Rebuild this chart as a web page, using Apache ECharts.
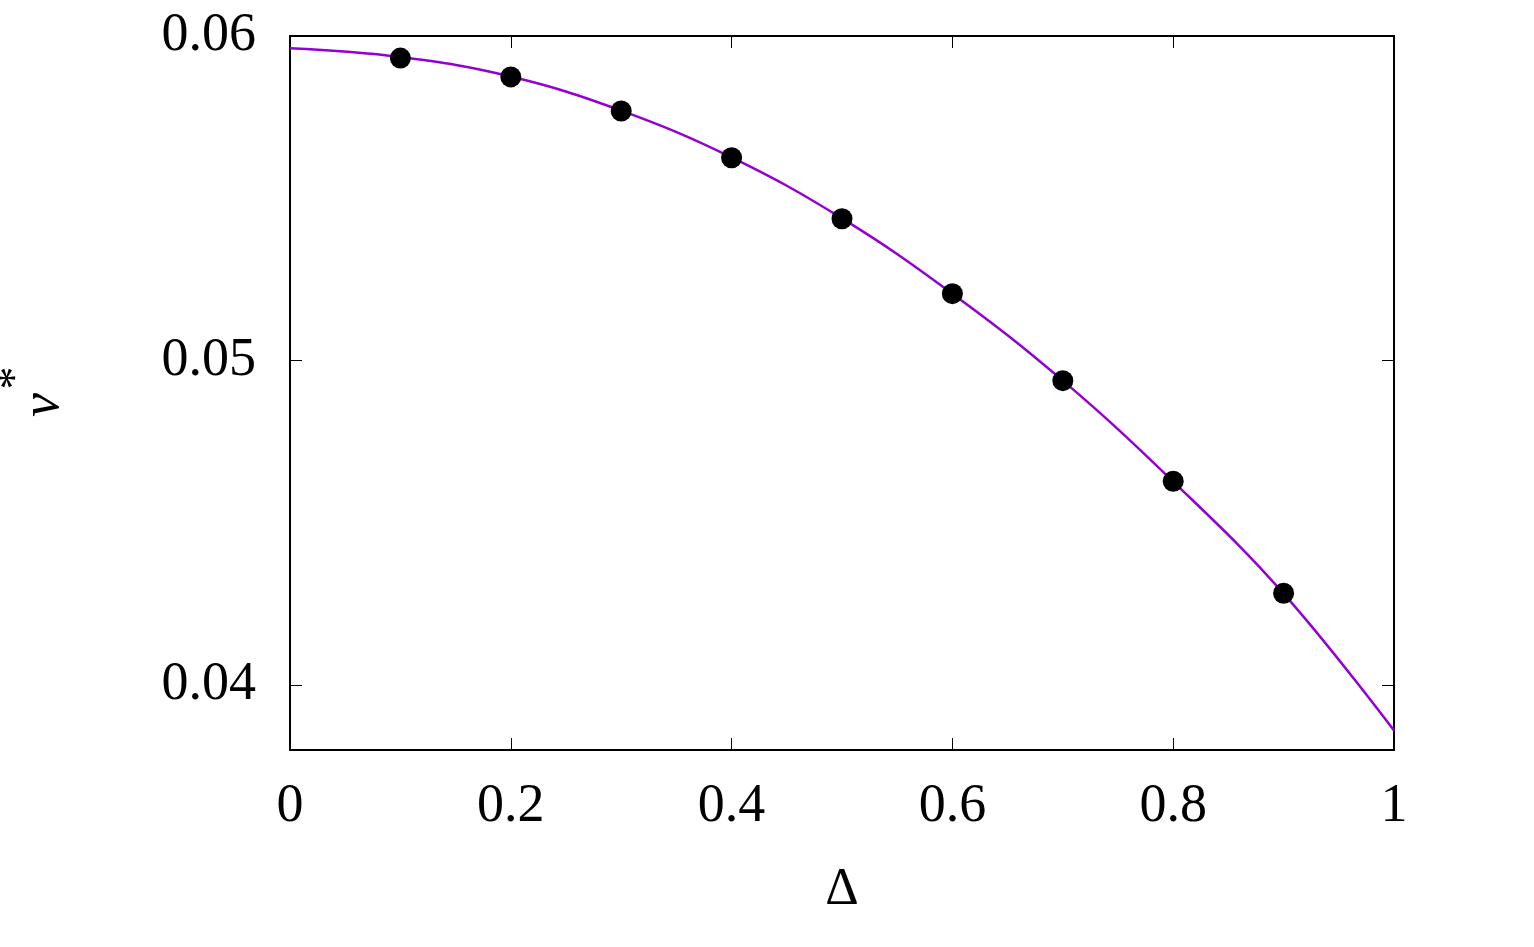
<!DOCTYPE html>
<html>
<head>
<meta charset="utf-8">
<script src="https://cdn.jsdelivr.net/npm/echarts@6/dist/echarts.min.js"></script>
<style>
  html, body { margin: 0; padding: 0; background: #fff; }
  #chart { width: 1534px; height: 947px; }
</style>
</head>
<body>
<div id="chart"></div>
<script>
// fitted curve
const curveX = [0, 0.1, 0.2, 0.3, 0.4, 0.5, 0.6, 0.7, 0.8, 0.9, 1.0];
const curveY = [0.05962, 0.05935, 0.05875, 0.05770, 0.05626, 0.05438, 0.05206, 0.04938, 0.04627, 0.04282, 0.03860];

// measured points
const pointX = [0.1, 0.2, 0.3, 0.4, 0.5, 0.6, 0.7, 0.8, 0.9];
const pointY = [0.05932, 0.05874, 0.05769, 0.05625, 0.05437, 0.05206, 0.04938, 0.04628, 0.04283];

const xTicks = [0, 0.2, 0.4, 0.6, 0.8, 1];
const yTicks = [0.04, 0.05, 0.06];

const font = 'Liberation Serif';
const frame = { show: true, onZero: false, lineStyle: { color: '#000', width: 2 } };
const tick = { show: true, inside: true, length: 12, lineStyle: { color: '#000', width: 1 } };

const yLabel = v => yTicks.some(t => Math.abs(t - v) < 1e-9) ? v.toFixed(2) : '';

const chart = echarts.init(document.getElementById('chart'));
chart.setOption({
  animation: false,
  backgroundColor: '#fff',
  grid: { left: 290, right: 140, top: 36, bottom: 197, containLabel: false, outerBoundsMode: 'none' },
  // y axis title: nu with a raised star, rotated
  graphic: [
    {
      type: 'text', x: 44, y: 405, rotation: Math.PI / 2,
      style: { text: 'ν', font: 'italic 54px "Liberation Serif"', fill: '#000', align: 'center', verticalAlign: 'middle' }
    },
    {
      type: 'text', x: 17, y: 378, rotation: Math.PI / 2,
      style: { text: '*', font: '46px "Liberation Serif"', fill: '#000', align: 'center', verticalAlign: 'middle' }
    }
  ],
  xAxis: [
    {
      type: 'value', min: 0, max: 1, interval: 0.2,
      axisLine: frame, axisTick: tick, splitLine: { show: false },
      axisLabel: { fontFamily: font, fontSize: 54, color: '#000', margin: 30,
        formatter: v => xTicks.some(t => Math.abs(t - v) < 1e-9) ? String(+v.toFixed(1)) : '' },
      name: 'Δ', nameLocation: 'middle', nameGap: 114,
      nameTextStyle: { fontFamily: font, fontSize: 52, color: '#000' }
    },
    {
      type: 'value', position: 'top', min: 0, max: 1, interval: 0.2,
      axisLine: frame, axisTick: tick, axisLabel: { show: false }, splitLine: { show: false }
    }
  ],
  yAxis: [
    {
      type: 'value', min: 0.038, max: 0.06, splitNumber: 2,
      axisLine: frame, axisTick: tick, splitLine: { show: false },
      axisLabel: { fontFamily: font, fontSize: 54, color: '#000', margin: 34, formatter: yLabel }
    },
    {
      type: 'value', position: 'right', min: 0.038, max: 0.06, splitNumber: 2,
      axisLine: frame, axisTick: tick, axisLabel: { show: false }, splitLine: { show: false }
    }
  ],
  series: [
    {
      type: 'line',
      data: curveX.map((x, i) => [x, curveY[i]]),
      smooth: 0.4,
      showSymbol: false,
      lineStyle: { color: '#9400d3', width: 2.5 },
      z: 2
    },
    {
      type: 'scatter',
      data: pointX.map((x, i) => [x, pointY[i]]),
      symbol: 'circle',
      symbolSize: 21,
      itemStyle: { color: '#000', opacity: 1 },
      z: 3
    }
  ]
});
</script>
</body>
</html>
